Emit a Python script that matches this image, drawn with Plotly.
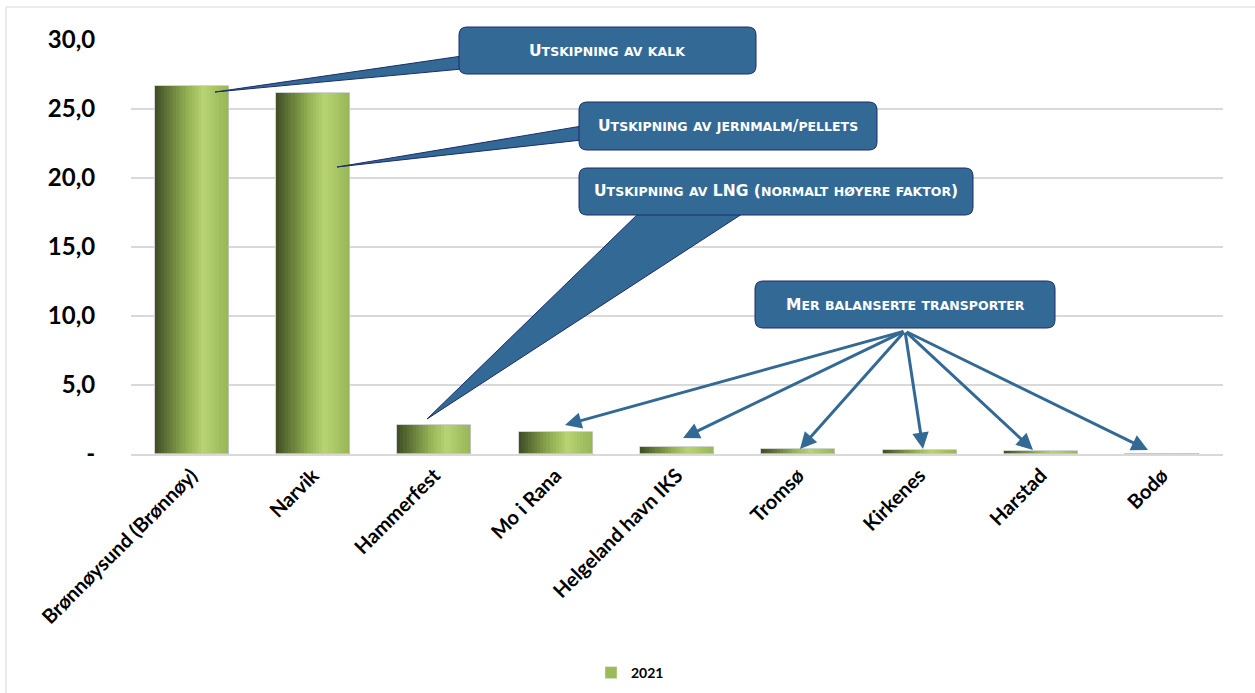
import plotly.graph_objects as go

# ---------------- data ----------------
categories = ["Brønnøysund (Brønnøy)", "Narvik", "Hammerfest", "Mo i Rana",
              "Helgeland havn IKS", "Tromsø", "Kirkenes", "Harstad", "Bodø"]
values_2021 = [26.7, 26.15, 2.1, 1.6, 0.5, 0.35, 0.3, 0.22, 0.02]
series_name = "2021"
y_tickvals = [0, 5, 10, 15, 20, 25, 30]
y_ticktext = ["-", "5,0", "10,0", "15,0", "20,0", "25,0", "30,0"]

callout_texts = ["Utskipning av kalk",
                 "Utskipning av jernmalm/pellets",
                 "Utskipning av LNG (normalt høyere faktor)",
                 "Mer balanserte transporter"]

# ---------------- layout geometry ----------------
W, H = 1255, 693
L, R, T, B = 131, 1223, 40, 454


def px(x):
    return (x - L) / (R - L)


def py(y):
    return (B - y) / (B - T)


# gradient colours for the bars
stops = [(0.0, (62, 76, 36)), (0.45, (150, 180, 84)), (0.66, (184, 212, 115)), (1.0, (150, 181, 86))]


def grad(t):
    for (t0, c0), (t1, c1) in zip(stops[:-1], stops[1:]):
        if t0 <= t <= t1:
            f = (t - t0) / (t1 - t0)
            return "rgb(%d,%d,%d)" % tuple(round(a + (b - a) * f) for a, b in zip(c0, c1))
    return "rgb(%d,%d,%d)" % stops[-1][1]


def small_caps(s, big=15.5, small=12.5):
    out = []
    for ch in s:
        if ch.islower():
            out.append(f"<span style='font-size:{small}px'>{ch.upper()}</span>")
        else:
            out.append(f"<span style='font-size:{big}px'>{ch}</span>")
    return "".join(out)


fig = go.Figure()
bw = 0.61
N = 24
for k in range(N):
    fig.add_trace(go.Bar(
        x=categories, y=values_2021, width=bw / N * 1.05,
        offset=-bw / 2 + k * bw / N,
        marker=dict(color=grad((k + 0.5) / N), line=dict(width=0)),
        showlegend=False, hoverinfo="skip"))
# outline
fig.add_trace(go.Bar(
    x=categories, y=values_2021, width=bw, offset=-bw / 2, name=series_name,
    marker=dict(color="rgba(0,0,0,0)", line=dict(color="rgba(200,200,200,0.8)", width=1)),
    showlegend=False))
# legend entry
fig.add_trace(go.Bar(x=[None], y=[None], name=series_name,
                     marker=dict(color="#9BBB59"), showlegend=True))

BOX_FILL = "#336A95"
BOX_LINE = "#1C2B6E"


def rrect(x0, y0, x1, y1, r=8):
    rx = r / (R - L)
    ry = r / (B - T)
    X0, X1 = px(x0), px(x1)
    Y0, Y1 = py(y0), py(y1)
    return (f"M {X0+rx},{Y0} L {X1-rx},{Y0} Q {X1},{Y0} {X1},{Y0-ry} "
            f"L {X1},{Y1+ry} Q {X1},{Y1} {X1-rx},{Y1} L {X0+rx},{Y1} "
            f"Q {X0},{Y1} {X0},{Y1+ry} L {X0},{Y0-ry} Q {X0},{Y0} {X0+rx},{Y0} Z")


def tri(p1, p2, p3):
    return (f"M {px(p1[0])},{py(p1[1])} L {px(p2[0])},{py(p2[1])} "
            f"L {px(p3[0])},{py(p3[1])} Z")


shapes = []
shapes.append(dict(type="rect", xref="paper", yref="paper",
                   x0=px(6), x1=px(1262), y0=py(7), y1=py(700),
                   line=dict(color="#D9D9D9", width=1), fillcolor="rgba(0,0,0,0)", layer="below"))

boxes = [
    dict(box=(459, 27, 756, 74), ptr=((462, 56), (462, 69), (215, 92))),
    dict(box=(579, 102, 877, 150), ptr=((582, 126), (582, 140), (337, 167))),
    dict(box=(579, 168, 973, 215), ptr=((640, 212), (745, 212), (427, 419))),
    dict(box=(755, 281, 1055, 328), ptr=None),
]
for b in boxes:
    if b["ptr"]:
        shapes.append(dict(type="path", xref="paper", yref="paper", path=tri(*b["ptr"]),
                           fillcolor=BOX_FILL, line=dict(color=BOX_LINE, width=1), layer="above"))
for b in boxes:
    shapes.append(dict(type="path", xref="paper", yref="paper", path=rrect(*b["box"]),
                       fillcolor=BOX_FILL, line=dict(color=BOX_LINE, width=1), layer="above"))

annotations = []
tail = (905, 331)
heads = [(565, 425), (683, 438), (800, 449), (923, 449), (1033, 450), (1148, 450)]
for hx, hy in heads:
    annotations.append(dict(xref="paper", yref="paper", x=px(hx), y=py(hy),
                            ax=tail[0] - hx, ay=tail[1] - hy, axref="pixel", ayref="pixel",
                            text="", showarrow=True, arrowhead=2, arrowsize=1.1,
                            arrowwidth=3, arrowcolor=BOX_FILL, standoff=0))

for b, txt in zip(boxes, callout_texts):
    x0, y0, x1, y1 = b["box"]
    annotations.append(dict(xref="paper", yref="paper", x=px((x0 + x1) / 2), y=py((y0 + y1) / 2),
                            text=small_caps(txt), showarrow=False, xanchor="center", yanchor="middle",
                            font=dict(family="DejaVu Sans", size=15, color="white", weight="bold")))

fig.update_layout(
    width=W, height=H,
    margin=dict(l=L, r=W - R, t=T, b=H - B, autoexpand=False),
    paper_bgcolor="white", plot_bgcolor="white",
    barmode="overlay", bargap=0,
    showlegend=True,
    legend=dict(orientation="h", x=px(630), xanchor="center", y=py(673), yanchor="middle",
                font=dict(family="Lato", size=14, color="black", weight="bold"),
                bgcolor="rgba(0,0,0,0)", itemwidth=30),
    xaxis=dict(tickangle=-45, tickfont=dict(family="Lato", size=20, color="black", weight="bold"),
               showgrid=False, showline=True, linecolor="#D9D9D9", linewidth=2,
               ticks="", fixedrange=True),
    yaxis=dict(range=[0, 30], tickvals=y_tickvals, ticktext=y_ticktext,
               tickfont=dict(family="Lato", size=24, color="black", weight="bold"),
               showgrid=True, gridcolor="#D9D9D9", gridwidth=2, zeroline=False,
               ticks="outside", ticklen=30, tickcolor="rgba(0,0,0,0)", showline=False),
    shapes=shapes, annotations=annotations,
)

fig.write_html("out.html")
